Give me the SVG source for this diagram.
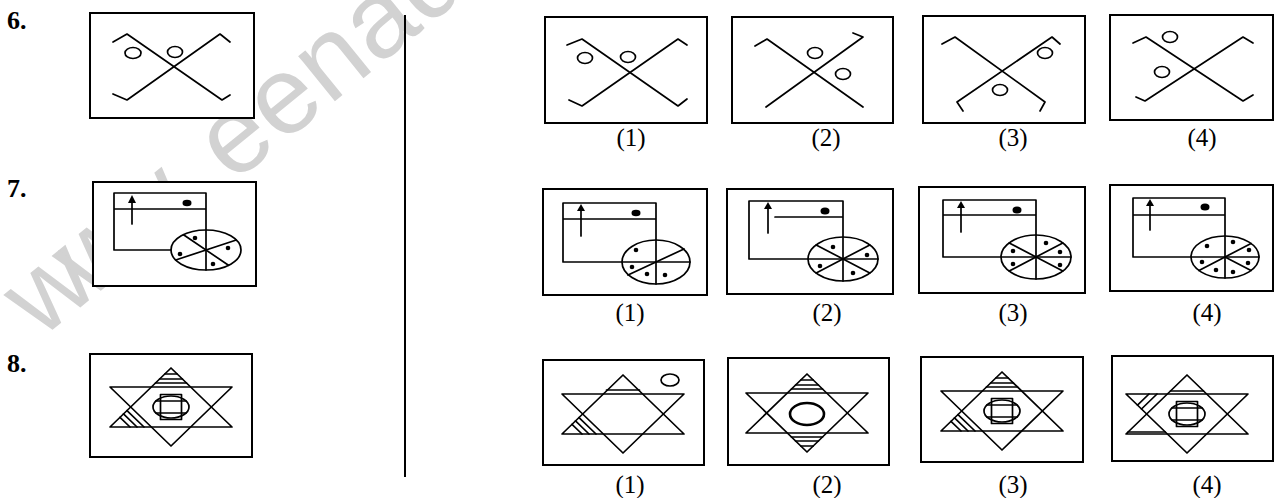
<svg xmlns="http://www.w3.org/2000/svg" xmlns:xlink="http://www.w3.org/1999/xlink" width="1278" height="498" viewBox="0 0 1278 498">
<style>
.box{fill:#fff;stroke:#000;stroke-width:2}
.ln{fill:none;stroke:#000;stroke-width:1.7;stroke-linejoin:round;stroke-linecap:round}
.dot{fill:#000}
.lbl{font-family:"Liberation Serif",serif;font-size:25px;fill:#000;text-anchor:middle}
.num{font-family:"Liberation Serif",serif;font-size:26px;font-weight:bold;fill:#000}
.wm{font-family:"Liberation Sans",Arial,sans-serif;font-size:110px;fill:#d2d2d2}
</style>
<defs>
<g id="star" class="ln"><polygon points="0,-39 -61,20 61,20"/><polygon points="-61,-20 61,-20 0,39"/></g>
<g id="topS" class="ln"><path d="M-6.2,-33H6.2M-11.4,-28H11.4M-15.5,-24H15.5"/></g>
<g id="blH" class="ln"><path d="M-27,20L-44,3.6M-34,20L-47.5,6.9M-41,20L-51,10.3"/></g>
<g id="botS" class="ln"><path d="M-15.5,24H15.5M-11.4,28H11.4M-6.2,33H6.2"/></g>
<g id="tlH" class="ln"><path d="M-30,-20L-45.5,-5M-38,-20L-49.5,-8.9"/></g>
<g id="sym" class="ln"><ellipse cx="0" cy="0" rx="18" ry="11"/><rect x="-10.5" y="-12.5" width="21" height="25"/><path d="M-15,-6H15M-15,6H15"/></g>
</defs>

<g id="watermark"><text class="wm" transform="translate(40,340) rotate(-39)" x="0 62 124 186 248 310 372 434 496">www.eenad</text></g>

<g id="divider"><line x1="405" y1="15" x2="405" y2="477" stroke="#000" stroke-width="2"/></g>

<g id="numbers">
<text class="num" x="7" y="29">6.</text>
<text class="num" x="7" y="197">7.</text>
<text class="num" x="7" y="372">8.</text>
</g>

<!-- Row 6 -->
<g id="q6">
<rect class="box" x="90" y="13" width="164" height="105"/>
<path class="ln" d="M113,42L127,34L222,100L230,95M230,42L220,34L127,100L113,94"/>
<ellipse class="ln" cx="133" cy="53" rx="8" ry="5.5"/>
<ellipse class="ln" cx="175" cy="52" rx="7.5" ry="5.5"/>
</g>
<g id="a6-1">
<rect class="box" x="545" y="17" width="162" height="106"/>
<path class="ln" d="M567,45L582,39L678,106L687,99M687,45L678,39L582,106L569,100"/>
<ellipse class="ln" cx="585" cy="58" rx="7.5" ry="5.5"/>
<ellipse class="ln" cx="628" cy="57" rx="7.5" ry="5.5"/>
</g>
<g id="a6-2">
<rect class="box" x="732" y="17" width="161" height="106"/>
<path class="ln" d="M755,46L767,39L863,107M853,33L863,37L766,107"/>
<ellipse class="ln" cx="815" cy="53" rx="7.5" ry="5.5"/>
<ellipse class="ln" cx="843" cy="74" rx="7.5" ry="5.5"/>
</g>
<g id="a6-3">
<rect class="box" x="923" y="16" width="162" height="107"/>
<path class="ln" d="M942,44L955,37L1045,102L1040,111M1060,44L1052,37L957,102L963,111"/>
<ellipse class="ln" cx="1045" cy="53" rx="7.5" ry="5.5"/>
<ellipse class="ln" cx="1000" cy="90" rx="7.5" ry="5.5"/>
</g>
<g id="a6-4">
<rect class="box" x="1110" y="15" width="163" height="105"/>
<path class="ln" d="M1133,43L1146,37L1243,101L1253,95M1253,43L1243,37L1145,101L1136,97"/>
<ellipse class="ln" cx="1170" cy="37" rx="7.5" ry="5.5"/>
<ellipse class="ln" cx="1162" cy="72" rx="7.5" ry="5.5"/>
</g>

<!-- Row 7 -->
<g id="q7">
<rect class="box" x="93" y="182" width="163" height="104"/>
<path class="ln" d="M171,250H114V193H206V270M114,209H206"/>
<line class="ln" x1="132" y1="224" x2="132" y2="201"/>
<polygon class="dot" points="128,203 132,195 136,203"/>
<ellipse class="dot" cx="187" cy="203" rx="4.5" ry="3.2"/>
<ellipse class="ln" cx="206" cy="250" rx="35" ry="20"/>
<path class="ln" d="M183.5,234.7L228.5,265.3M236.3,240L175.7,260"/>
<circle class="dot" cx="195" cy="238" r="2.3"/>
<circle class="dot" cx="228" cy="248" r="2.3"/>
<circle class="dot" cx="180" cy="254" r="2.3"/>
<circle class="dot" cx="213" cy="264" r="2.3"/>
</g>
<g id="a7-1">
<rect class="box" x="543" y="189" width="164" height="106"/>
<path class="ln" d="M690,262H563V203H656V284M563,219H656"/>
<line class="ln" x1="581" y1="236" x2="581" y2="210"/>
<polygon class="dot" points="577,211 581,204 585,211"/>
<ellipse class="dot" cx="636" cy="213" rx="4.5" ry="3.2"/>
<ellipse class="ln" cx="656" cy="262" rx="34" ry="22"/>
<path class="ln" d="M684,249L628,275"/>
<circle class="dot" cx="636" cy="250" r="2.3"/>
<circle class="dot" cx="632" cy="267" r="2.3"/>
<circle class="dot" cx="647" cy="274" r="2.3"/>
<circle class="dot" cx="665" cy="275" r="2.3"/>
</g>
<g id="a7-2">
<rect class="box" x="727" y="189" width="166" height="105"/>
<path class="ln" d="M878,259H749V201H843V281M775,217H843"/>
<line class="ln" x1="768" y1="233" x2="768" y2="208"/>
<polygon class="dot" points="764,209 768,202 772,209"/>
<ellipse class="dot" cx="825" cy="211" rx="4.5" ry="3.5"/>
<ellipse class="ln" cx="843" cy="259" rx="35" ry="22"/>
<path class="ln" d="M816.2,244.9L869.8,273.1M869.8,244.9L816.2,273.1"/>
<circle class="dot" cx="833" cy="247" r="2.3"/>
<circle class="dot" cx="867" cy="255" r="2.3"/>
<circle class="dot" cx="820" cy="266" r="2.3"/>
<circle class="dot" cx="853" cy="273" r="2.3"/>
</g>
<g id="a7-3">
<rect class="box" x="919" y="187" width="166" height="106"/>
<path class="ln" d="M1071,257H943V200H1036V279M943,215H1036"/>
<line class="ln" x1="961" y1="232" x2="961" y2="207"/>
<polygon class="dot" points="957,208 961,201 965,208"/>
<ellipse class="dot" cx="1017" cy="210" rx="4.5" ry="3.5"/>
<ellipse class="ln" cx="1036" cy="257" rx="35" ry="22"/>
<path class="ln" d="M1009.2,242.9L1062.8,271.1M1062.8,242.9L1009.2,271.1"/>
<circle class="dot" cx="1013" cy="251" r="2.3"/>
<circle class="dot" cx="1046" cy="243" r="2.3"/>
<circle class="dot" cx="1060" cy="252" r="2.3"/>
<circle class="dot" cx="1013" cy="264" r="2.3"/>
<circle class="dot" cx="1060" cy="265" r="2.3"/>
</g>
<g id="a7-4">
<rect class="box" x="1110" y="185" width="163" height="106"/>
<path class="ln" d="M1259,257H1133V198H1225V278M1133,215H1225"/>
<line class="ln" x1="1150" y1="230" x2="1150" y2="205"/>
<polygon class="dot" points="1146,206 1150,199 1154,206"/>
<ellipse class="dot" cx="1205" cy="207" rx="4.5" ry="3.5"/>
<ellipse class="ln" cx="1225" cy="257" rx="34" ry="21"/>
<path class="ln" d="M1251,243.5L1199,270.5M1225,257L1251,270.5"/>
<circle class="dot" cx="1207" cy="246" r="2.3"/>
<circle class="dot" cx="1233" cy="242" r="2.3"/>
<circle class="dot" cx="1249" cy="250" r="2.3"/>
<circle class="dot" cx="1202" cy="262" r="2.3"/>
<circle class="dot" cx="1216" cy="270" r="2.3"/>
<circle class="dot" cx="1248" cy="263" r="2.3"/>
<circle class="dot" cx="1233" cy="272" r="2.3"/>
</g>

<!-- Row 8 -->
<g id="q8">
<rect class="box" x="90" y="354" width="162" height="103"/>
<g transform="translate(171,407)"><use xlink:href="#star"/><use xlink:href="#topS"/><use xlink:href="#blH"/><use xlink:href="#sym"/></g>
</g>
<g id="a8-1">
<rect class="box" x="543" y="360" width="161" height="105"/>
<g transform="translate(623,414)"><use xlink:href="#star"/><path class="ln" d="M-16.5,-24H16.5"/><use xlink:href="#blH"/></g>
<ellipse class="ln" cx="670" cy="380" rx="9" ry="6"/>
</g>
<g id="a8-2">
<rect class="box" x="728" y="358" width="161" height="107"/>
<g transform="translate(807,413)"><use xlink:href="#star"/><use xlink:href="#topS"/><use xlink:href="#botS"/><ellipse class="ln" cx="0" cy="1" rx="17" ry="11" style="stroke-width:2.6"/></g>
</g>
<g id="a8-3">
<rect class="box" x="921" y="357" width="162" height="105"/>
<g transform="translate(1002,411)"><use xlink:href="#star"/><use xlink:href="#topS"/><use xlink:href="#blH"/><use xlink:href="#sym"/></g>
</g>
<g id="a8-4">
<rect class="box" x="1112" y="356" width="161" height="105"/>
<g transform="translate(1187,414)"><use xlink:href="#star"/><path class="ln" d="M-16.5,-23H16.5M-58.9,18H-21.7"/><use xlink:href="#tlH"/><use xlink:href="#sym"/></g>
</g>

<g id="labels">
<text class="lbl" x="631" y="146">(1)</text>
<text class="lbl" x="826" y="146">(2)</text>
<text class="lbl" x="1013" y="146">(3)</text>
<text class="lbl" x="1202" y="146">(4)</text>
<text class="lbl" x="630" y="321">(1)</text>
<text class="lbl" x="827" y="321">(2)</text>
<text class="lbl" x="1013" y="321">(3)</text>
<text class="lbl" x="1207" y="321">(4)</text>
<text class="lbl" x="630" y="493">(1)</text>
<text class="lbl" x="827" y="493">(2)</text>
<text class="lbl" x="1013" y="493">(3)</text>
<text class="lbl" x="1207" y="493">(4)</text>
</g>
</svg>
